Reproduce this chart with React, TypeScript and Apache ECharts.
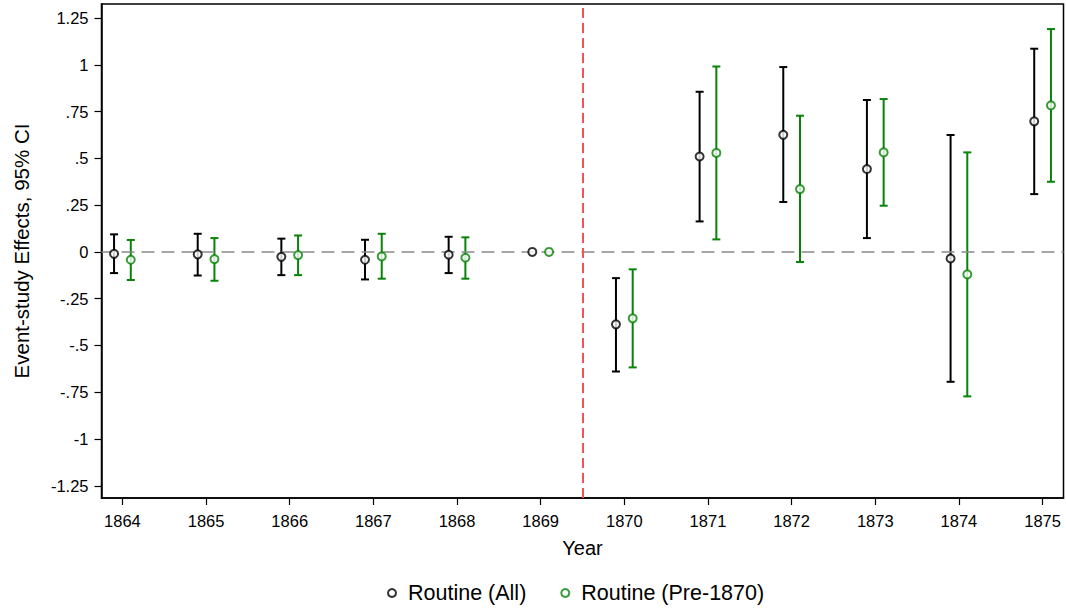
import React, { useEffect, useRef } from "react";
import * as echarts from "echarts";

const years = [1864, 1865, 1866, 1867, 1868, 1869, 1870, 1871, 1872, 1873, 1874, 1875];

const allEst = [-0.01, -0.013, -0.026, -0.042, -0.015, 0, -0.387, 0.51, 0.626, 0.443, -0.035, 0.698];
const allLo: (number | null)[] = [-0.113, -0.126, -0.124, -0.147, -0.113, null, -0.639, 0.163, 0.267, 0.074, -0.694, 0.309];
const allHi: (number | null)[] = [0.094, 0.097, 0.071, 0.065, 0.081, null, -0.14, 0.856, 0.988, 0.812, 0.625, 1.086];

const preEst = [-0.042, -0.038, -0.017, -0.024, -0.031, 0, -0.355, 0.529, 0.336, 0.532, -0.12, 0.783];
const preLo: (number | null)[] = [-0.15, -0.154, -0.124, -0.143, -0.143, null, -0.617, 0.067, -0.054, 0.247, -0.772, 0.375];
const preHi: (number | null)[] = [0.064, 0.074, 0.088, 0.097, 0.078, null, -0.093, 0.991, 0.728, 0.817, 0.532, 1.191];

const yTicks = [-1.25, -1, -0.75, -0.5, -0.25, 0, 0.25, 0.5, 0.75, 1, 1.25];
const treatmentLine = 1869.5;

const seriesNames = ["Routine (All)", "Routine (Pre-1870)"];
const colors = ["#000000", "#078307"];
const offset = 0.1;

const FONT = "'Liberation Sans', Arial, Helvetica, sans-serif";

function fmtY(v: number): string {
  if (v === 0) return "0";
  const s = String(v);
  return s.replace(/^0\./, ".").replace(/^-0\./, "-.");
}

function ciData(lo: (number | null)[], hi: (number | null)[], shift: number) {
  const out: number[][] = [];
  years.forEach((y, i) => {
    if (lo[i] !== null && hi[i] !== null) out.push([y + shift, lo[i] as number, hi[i] as number]);
  });
  return out;
}

function makeRender(color: string) {
  return (params: any, api: any) => {
    const x = api.value(0);
    const lo = api.value(1);
    const hi = api.value(2);
    const pLo = api.coord([x, lo]);
    const pHi = api.coord([x, hi]);
    const w = 4;
    const style = { stroke: color, lineWidth: 2 };
    return {
      type: "group",
      children: [
        { type: "line", shape: { x1: pLo[0], y1: pLo[1], x2: pHi[0], y2: pHi[1] }, style },
        { type: "line", shape: { x1: pLo[0] - w, y1: pLo[1], x2: pLo[0] + w, y2: pLo[1] }, style },
        { type: "line", shape: { x1: pHi[0] - w, y1: pHi[1], x2: pHi[0] + w, y2: pHi[1] }, style },
      ],
    };
  };
}

export default function App() {
  const ref = useRef<HTMLDivElement>(null);
  useEffect(() => {
    if (!ref.current) return;
    const chart = echarts.init(ref.current, undefined, { renderer: "svg" });
    chart.setOption({
      animation: false,
      backgroundColor: "#ffffff",
      textStyle: { fontFamily: FONT },
      grid: {
        left: 101.5,
        right: 2.5,
        top: 4,
        bottom: 110,
        containLabel: false,
        show: true,
        borderColor: "#000",
        borderWidth: 1.5,
        backgroundColor: "transparent",
      },
      legend: {
        data: seriesNames.map((n, i) => ({
          name: n,
          icon: "circle",
          itemStyle: { color: "#ffffff", borderColor: colors[i], borderWidth: 2 },
        })),
        bottom: -1,
        left: 382,
        itemWidth: 8,
        itemHeight: 8,
        itemGap: 34,
        textStyle: { fontSize: 21.5, color: "#000", fontFamily: FONT, padding: [0, 0, 0, 7] },
      },
      xAxis: {
        type: "value",
        min: 1863.75,
        max: 1875.25,
        name: "Year",
        nameLocation: "middle",
        nameGap: 40,
        nameTextStyle: { fontSize: 20, color: "#000", fontFamily: FONT },
        axisLine: { show: true, onZero: false, lineStyle: { color: "#000", width: 1.5 } },
        axisTick: { show: true, length: 7, lineStyle: { color: "#000", width: 1.2 }, customValues: years },
        axisLabel: { customValues: years, fontSize: 16.5, color: "#000", margin: 14, formatter: (v: number) => String(v) },
        splitLine: { show: false },
      },
      yAxis: {
        type: "value",
        min: -1.315,
        max: 1.325,
        name: "Event-study Effects, 95% CI",
        nameLocation: "middle",
        nameGap: 70,
        nameTextStyle: { fontSize: 20.5, color: "#000", fontFamily: FONT },
        axisLine: { show: true, onZero: false, lineStyle: { color: "#000", width: 1.5 } },
        axisTick: { show: true, length: 7, lineStyle: { color: "#000", width: 1.2 }, customValues: yTicks },
        axisLabel: { customValues: yTicks, fontSize: 16.5, color: "#000", margin: 13, formatter: (v: number) => fmtY(v) },
        splitLine: { show: false },
      },
      series: [
        {
          type: "line",
          name: "refs",
          data: [],
          z: 1,
          markLine: {
            silent: true,
            symbol: "none",
            label: { show: false },
            data: [
              { yAxis: 0, lineStyle: { color: "#8a8a8a", width: 1.5, type: [13, 7] } },
              { xAxis: treatmentLine, lineStyle: { color: "#f05555", width: 2, type: [10, 5] } },
            ],
          },
        },
        {
          type: "custom",
          name: "ci-all",
          z: 3,
          renderItem: makeRender(colors[0]),
          data: ciData(allLo, allHi, -offset),
          encode: { x: 0, y: [1, 2] },
        },
        {
          type: "custom",
          name: "ci-pre",
          z: 3,
          renderItem: makeRender(colors[1]),
          data: ciData(preLo, preHi, offset),
          encode: { x: 0, y: [1, 2] },
        },
        {
          type: "scatter",
          name: seriesNames[0],
          z: 5,
          symbol: "emptyCircle",
          symbolSize: 8,
          itemStyle: { color: colors[0], borderColor: colors[0], borderWidth: 2 },
          data: years.map((y, i) => [y - offset, allEst[i]]),
        },
        {
          type: "scatter",
          name: seriesNames[1],
          z: 5,
          symbol: "emptyCircle",
          symbolSize: 8,
          itemStyle: { color: colors[1], borderColor: colors[1], borderWidth: 2 },
          data: years.map((y, i) => [y + offset, preEst[i]]),
        },
      ],
    });
    return () => chart.dispose();
  }, []);
  return <div ref={ref} style={{ position: "fixed", left: 0, top: 0, width: 1066, height: 608 }} />;
}
